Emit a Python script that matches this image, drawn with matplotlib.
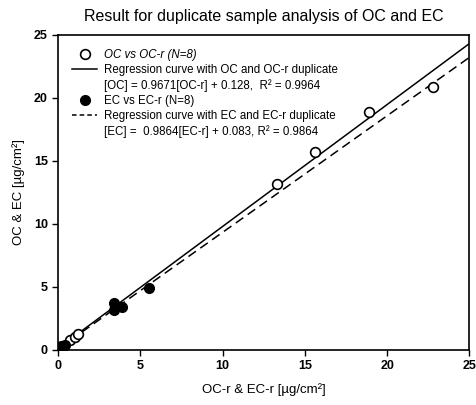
import matplotlib
matplotlib.use("Agg")
import matplotlib.pyplot as plt
from matplotlib.lines import Line2D
import numpy as np

plt.rcParams["font.family"] = ["Liberation Sans", "DejaVu Sans"]

# OC vs OC-r duplicate
oc_r = [0.3, 0.7, 1.0, 1.2, 13.3, 15.6, 18.9, 22.8]
oc = [0.3, 0.8, 1.0, 1.3, 13.2, 15.7, 18.9, 20.9]
# EC vs EC-r duplicate
ec_r = [0.1, 0.2, 0.3, 0.4, 3.4, 3.4, 3.9, 5.5]
ec = [0.1, 0.3, 0.2, 0.4, 3.7, 3.2, 3.4, 4.9]

# regression lines (as drawn)
oc_slope, oc_icpt = 0.9671, 0.128
ec_slope, ec_icpt = 0.925, 0.083

fig = plt.figure(figsize=(4.77, 4.05), dpi=100)
ax = fig.add_axes([0.122, 0.136, 0.862, 0.778])

xs = np.array([0, 25])
ax.plot(xs, oc_slope * xs + oc_icpt, color="black", lw=1.1)
ax.plot(xs, ec_slope * xs + ec_icpt, color="black", lw=1.1, ls=(0, (6, 3.5)))
ax.plot(oc_r, oc, "o", ms=7, mfc="white", mec="black", mew=1.2, zorder=3)
ax.plot(ec_r, ec, "o", ms=7, mfc="black", mec="black", zorder=4)

ax.set_xlim(0, 25)
ax.set_ylim(0, 25)
ax.set_xticks([0, 5, 10, 15, 20, 25])
ax.set_yticks([0, 5, 10, 15, 20, 25])
ax.tick_params(direction="out", length=4, width=1, labelsize=9)
for t in ax.get_xticklabels() + ax.get_yticklabels():
    t.set_fontweight("bold")
for s in ax.spines.values():
    s.set_linewidth(1.2)

ax.set_title("Result for duplicate sample analysis of OC and EC", fontsize=11.5, pad=10)
ax.set_xlabel("OC-r & EC-r [\u00b5g/cm\u00b2]", fontsize=9.5, labelpad=8)
ax.set_ylabel("OC & EC [\u00b5g/cm\u00b2]", fontsize=9.5, labelpad=6)

blank = Line2D([], [], ls="none", marker="none")
handles = [
    Line2D([], [], ls="none", marker="o", ms=7, mfc="white", mec="black", mew=1.2),
    Line2D([], [], color="black", lw=1.1),
    blank,
    Line2D([], [], ls="none", marker="o", ms=7, mfc="black", mec="black"),
    Line2D([], [], color="black", lw=1.1, ls=(0, (3, 2))),
    blank,
]
labels = [
    "OC vs OC-r (N=8)",
    "Regression curve with OC and OC-r duplicate",
    "[OC] = 0.9671[OC-r] + 0.128,  R\u00b2 = 0.9964",
    "EC vs EC-r (N=8)",
    "Regression curve with EC and EC-r duplicate",
    "[EC] =  0.9864[EC-r] + 0.083, R\u00b2 = 0.9864",
]
leg = ax.legend(handles, labels, loc="upper left", frameon=False, fontsize=8.3,
                handlelength=2.2, handletextpad=0.6, labelspacing=0.28,
                borderaxespad=0.8)
leg.get_texts()[0].set_style("italic")

fig.savefig("out.png", dpi=100)
